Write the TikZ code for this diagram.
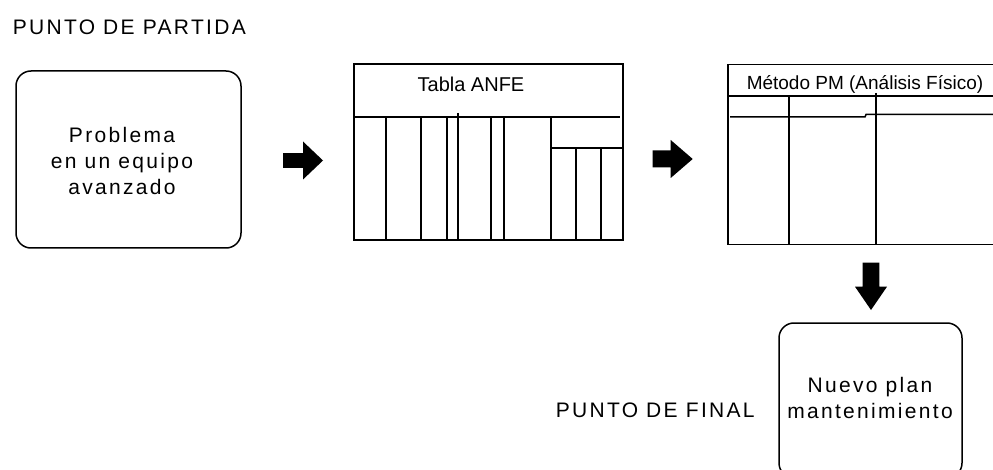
\documentclass[tikz,border=0pt]{standalone}
\usepackage{fontspec}
\setmainfont{Liberation Sans}
\newfontfamily\spacedfont[LetterSpace=11]{Liberation Sans}
\begin{document}
\begin{tikzpicture}[x=1pt,y=-1pt,line width=1.5pt,
  lbl/.style={font=\spacedfont\fontsize{21}{26}\selectfont,inner sep=0pt,align=center},
  ttl/.style={font=\fontsize{20}{24}\selectfont,inner sep=0pt},
  ttlb/.style={font=\fontsize{19}{24}\selectfont,inner sep=0pt},
  rbox/.style={draw,rounded corners=15pt,inner sep=0pt},
  tbox/.style={draw,inner sep=0pt},
  blk/.style={fill=black,draw=none}]
\useasboundingbox (0,0) rectangle (993,470);
\clip (0,0) rectangle (993,470);

% boxes
\node[rbox,minimum width=225pt,minimum height=177pt] (prob) at (128.5,159.5) {};
\node[tbox,minimum width=269pt,minimum height=176pt] (anfe) at (488.5,152) {};
\node[tbox,minimum width=268pt,minimum height=180pt] (pm) at (862,154.5) {};
\node[rbox,minimum width=183pt,minimum height=155pt] (nuevo) at (870.5,400.5) {};

% texts
\node[lbl,anchor=base west] (start) at (12,35) {PUNTO DE PARTIDA};
\node[lbl,anchor=base] (probtxt) at (122,195) {Problema\\en un equipo\\avanzado};
\node[ttl,anchor=base] (anfetxt) at (471,92) {Tabla ANFE};
\node[ttlb,anchor=base] (pmtxt) at (865,90) {Método PM (Análisis Físico)};
\node[lbl,anchor=base west] (fin) at (555,417) {PUNTO DE FINAL};
\node[lbl,anchor=base] (nuevotxt) at (870,418) {Nuevo plan\\mantenimiento};

% ANFE table lines
\draw (354,117) -- (620,117);
\foreach \x in {386,421,447,491,504,551} \draw (\x,117) -- (\x,240);
\draw (458,113) -- (458,240);
\draw (551,148) -- (623,148);
\foreach \x in {576,601} \draw (\x,148) -- (\x,240);

% PM table lines
\draw (728,96) -- (996,96);
\draw (789,96) -- (789,244.5);
\draw (876,93) -- (876,244.5);
\draw (730,117) -- (865,117) -- (866,114.5) -- (996,114.5);

% block arrows
\coordinate (a1) at (283,160.5);
\coordinate (a2) at (652.7,159);
\coordinate (a3) at (871,262.7);
\fill[blk] (a1) ++(0,-7.3) -- ++(20,0) -- ++(0,-11.7) -- ++(20,19) -- ++(-20,19) -- ++(0,-11.7) -- ++(-20,0) -- cycle;
\fill[blk] (a2) ++(0,-8.5) -- ++(18,0) -- ++(0,-10.5) -- ++(22,19) -- ++(-22,19) -- ++(0,-10.5) -- ++(-18,0) -- cycle;
\fill[blk] (a3) ++(-8.3,0) -- ++(0,24) -- ++(-7.7,0) -- ++(16,23.3) -- ++(16,-23.3) -- ++(-7.7,0) -- ++(0,-24) -- cycle;
\end{tikzpicture}
\end{document}
